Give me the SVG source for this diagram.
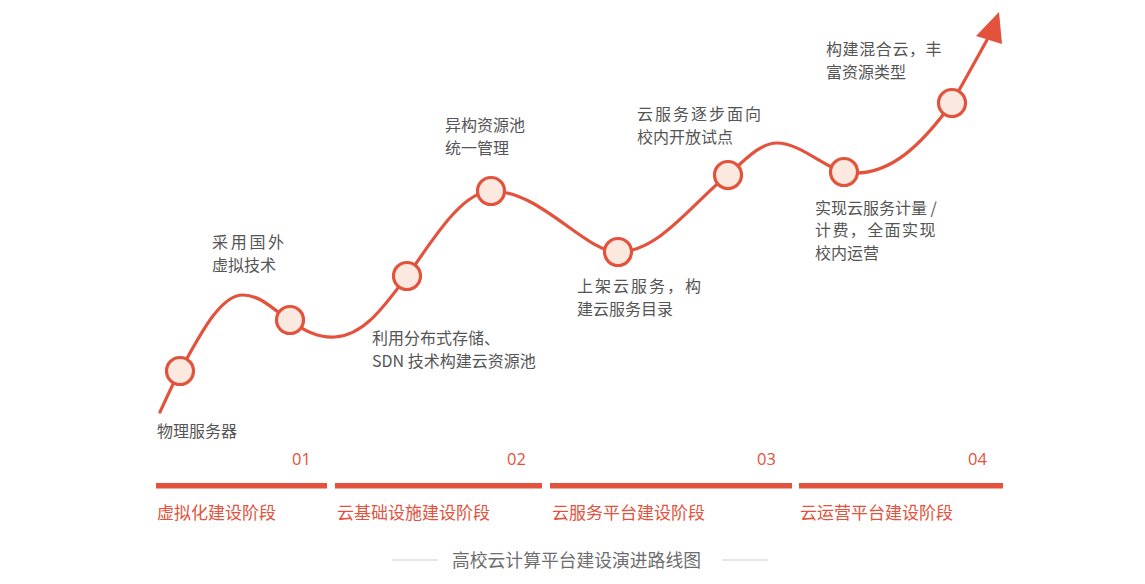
<svg xmlns="http://www.w3.org/2000/svg" width="1145" height="584" viewBox="0 0 1145 584">
<style>
.bg{fill:#ffffff}
.curve{fill:none;stroke:#e2523c;stroke-width:3.2;stroke-linecap:round}
.arrow{fill:#e2523c}
.dot{fill:#fbe8df;stroke:#e2523c;stroke-width:3.2}
.lbl{font-family:"Noto Sans CJK SC","Noto Sans",sans-serif;font-size:16px;fill:#555555}
.num{font-family:"Open Sans","Noto Sans",sans-serif;font-size:16.5px;fill:#e2523c}
.stage{font-family:"Noto Sans CJK SC","Noto Sans",sans-serif;font-size:17px;fill:#e2523c}
.bar{fill:#e2523c}
.title{font-family:"Noto Sans CJK SC","Noto Sans",sans-serif;font-size:17.8px;fill:#6e6e6e}
.rule{stroke:#cfcfcf;stroke-width:1.2}
</style>
<rect class="bg" x="0" y="0" width="1145" height="584"/>
<g id="connectors">
<path class="curve" d="M160,412 C168,395 172,385 180,371 C200,335 220,295 243,295 C262,295 275,312 290,320 C305,332 320,338 335,337 C365,335 385,305 407,276 C430,245 460,192 491,191 C540,190 585,252 618,252 C660,252 695,200 728,175 C745,160 760,143 777,143 C800,143 825,168 844,172 C890,180 925,140 952,103 L987,40"/>
<polygon class="arrow" points="999,12 976,36 1002,44"/>
</g>
<g id="node1"><circle class="dot" cx="180" cy="371" r="13.5"/><text class="lbl" x="157" y="437">物理服务器</text></g>
<g id="node2"><circle class="dot" cx="290" cy="320" r="13.5"/><text class="lbl"><tspan x="212" y="248" letter-spacing="2.7">采用国外</tspan><tspan x="212" y="270.5">虚拟技术</tspan></text></g>
<g id="node3"><circle class="dot" cx="407" cy="276" r="13.5"/><text class="lbl"><tspan x="372" y="344">利用分布式存储、</tspan><tspan x="372" y="366.5">SDN 技术构建云资源池</tspan></text></g>
<g id="node4"><circle class="dot" cx="491" cy="191" r="13.5"/><text class="lbl"><tspan x="445" y="131">异构资源池</tspan><tspan x="445" y="153.5">统一管理</tspan></text></g>
<g id="node5"><circle class="dot" cx="618" cy="252" r="13.5"/><text class="lbl"><tspan x="577" y="292" letter-spacing="2">上架云服务，构</tspan><tspan x="577" y="314.5">建云服务目录</tspan></text></g>
<g id="node6"><circle class="dot" cx="728" cy="175" r="13.5"/><text class="lbl"><tspan x="637" y="120" letter-spacing="2">云服务逐步面向</tspan><tspan x="637" y="142.5">校内开放试点</tspan></text></g>
<g id="node7"><circle class="dot" cx="844" cy="172" r="13.5"/><text class="lbl"><tspan x="815" y="213.5">实现云服务计量 /</tspan><tspan x="815" y="236" letter-spacing="1.4">计费，全面实现</tspan><tspan x="815" y="258.5">校内运营</tspan></text></g>
<g id="node8"><circle class="dot" cx="952" cy="103" r="13.5"/><text class="lbl"><tspan x="826" y="55" letter-spacing="0.6">构建混合云，丰</tspan><tspan x="826" y="77.5">富资源类型</tspan></text></g>
<g id="stage1"><text class="num" x="292" y="465">01</text><rect class="bar" x="156" y="483" width="171" height="5.5"/><text class="stage" x="157" y="519">虚拟化建设阶段</text></g>
<g id="stage2"><text class="num" x="507" y="465">02</text><rect class="bar" x="335" y="483" width="207" height="5.5"/><text class="stage" x="337" y="519">云基础设施建设阶段</text></g>
<g id="stage3"><text class="num" x="757" y="465">03</text><rect class="bar" x="550" y="483" width="242" height="5.5"/><text class="stage" x="552" y="519">云服务平台建设阶段</text></g>
<g id="stage4"><text class="num" x="968" y="465">04</text><rect class="bar" x="799" y="483" width="204" height="5.5"/><text class="stage" x="800" y="519">云运营平台建设阶段</text></g>
<g id="caption">
<line class="rule" x1="392" y1="560" x2="438" y2="560"/>
<line class="rule" x1="722" y1="560" x2="768" y2="560"/>
<text class="title" x="452" y="567">高校云计算平台建设演进路线图</text>
</g>
</svg>
